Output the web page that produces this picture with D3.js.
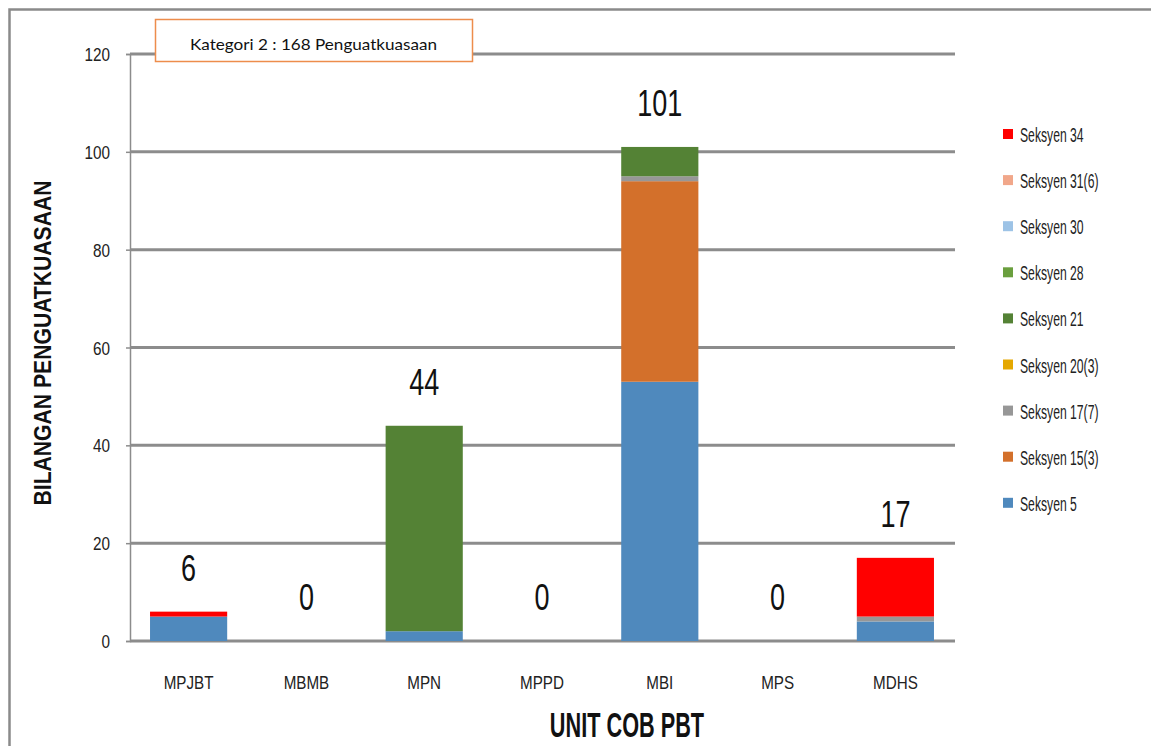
<!DOCTYPE html>
<html>
<head>
<meta charset="utf-8">
<script src="https://d3js.org/d3.v7.min.js"></script>
<style>
  body { margin: 0; background: #fff; }
  text { font-family: "Liberation Sans", Arial, sans-serif; }
</style>
</head>
<body>
<div id="chart"></div>
<script>
var categories = ["MPJBT", "MBMB", "MPN", "MPPD", "MBI", "MPS", "MDHS"];

// series, bottom of the stack first
var seriesNames = ["Seksyen 5", "Seksyen 15(3)", "Seksyen 17(7)", "Seksyen 20(3)", "Seksyen 21",
                   "Seksyen 28", "Seksyen 30", "Seksyen 31(6)", "Seksyen 34"];
var seksyen5   = [5, 0, 2, 0, 53, 0, 4];
var seksyen15  = [0, 0, 0, 0, 41, 0, 0];
var seksyen17  = [0, 0, 0, 0, 1, 0, 1];
var seksyen20  = [0, 0, 0, 0, 0, 0, 0];
var seksyen21  = [0, 0, 42, 0, 6, 0, 0];
var seksyen28  = [0, 0, 0, 0, 0, 0, 0];
var seksyen30  = [0, 0, 0, 0, 0, 0, 0];
var seksyen31  = [0, 0, 0, 0, 0, 0, 0];
var seksyen34  = [1, 0, 0, 0, 0, 0, 12];
var seriesColors = ["#4f89bd", "#d3702b", "#979797", "#e5a800", "#548235",
                    "#6a9f3e", "#9dc3e6", "#f1a78a", "#ff0000"];
var yTicks = [0, 20, 40, 60, 80, 100, 120];
var titleText = "Kategori 2 : 168 Penguatkuasaan";

var width = 1151, height = 746;
var seriesValues = [seksyen5, seksyen15, seksyen17, seksyen20, seksyen21,
                    seksyen28, seksyen30, seksyen31, seksyen34];

var rows = categories.map(function(c, i) {
  var r = {cat: c};
  seriesNames.forEach(function(s, j) { r[s] = seriesValues[j][i]; });
  return r;
});
var totals = categories.map(function(c, i) {
  return d3.sum(seriesValues, function(v) { return v[i]; });
});

// the original uses a narrow font, so squeeze text horizontally
function squeeze(sel, fx, fy, sx) {
  sel.attr("transform", function(d, i) {
    return "translate(" + fx(d, i) + "," + fy(d, i) + ") scale(" + sx + ",1)";
  });
}

var svg = d3.select("#chart").append("svg")
  .attr("width", width)
  .attr("height", height);

// outer frame
svg.append("rect")
  .attr("x", 9.5).attr("y", 9.5)
  .attr("width", width + 20).attr("height", height + 20)
  .attr("fill", "none")
  .attr("stroke", "#8a8a8a")
  .attr("stroke-width", 2.5);

var x = d3.scaleBand().domain(categories).range([130, 954]).paddingInner(0.345).paddingOuter(0.17);
var y = d3.scaleLinear().domain([0, 120]).range([641, 54]);

// gridlines
svg.append("g").selectAll("line")
  .data(yTicks)
  .enter().append("line")
  .attr("x1", 130).attr("x2", 955)
  .attr("y1", function(d) { return y(d); })
  .attr("y2", function(d) { return y(d); })
  .attr("stroke", "#8c8c8c")
  .attr("stroke-width", 3);

// y axis (line + ticks), labels drawn separately
var yAxis = svg.append("g")
  .attr("transform", "translate(130,0)")
  .call(d3.axisLeft(y).tickValues(yTicks).tickSize(4).tickFormat(""));
yAxis.select(".domain").attr("stroke", "#8c8c8c").attr("stroke-width", 1.5);
yAxis.selectAll(".tick line").attr("stroke", "#8c8c8c").attr("stroke-width", 1.5);

svg.append("g").selectAll("text")
  .data(yTicks)
  .enter().append("text")
  .attr("text-anchor", "end")
  .style("font-size", "18px")
  .attr("fill", "#222")
  .text(function(d) { return d; })
  .call(squeeze, function() { return 110; }, function(d) { return y(d) + 7; }, 0.85);

// stacked bars
var stack = d3.stack().keys(seriesNames)(rows);
svg.append("g").selectAll("g")
  .data(stack)
  .enter().append("g")
  .attr("fill", function(d, i) { return seriesColors[i]; })
  .selectAll("rect")
  .data(function(d) { return d; })
  .enter().filter(function(d) { return d[1] - d[0] > 0; })
  .append("rect")
  .attr("x", function(d) { return x(d.data.cat); })
  .attr("width", x.bandwidth())
  .attr("y", function(d) { return y(d[1]); })
  .attr("height", function(d) { return y(d[0]) - y(d[1]); });

// totals above bars
svg.append("g").selectAll("text")
  .data(categories)
  .enter().append("text")
  .attr("text-anchor", "middle")
  .style("font-size", "36px")
  .attr("fill", "#111")
  .text(function(d, i) { return totals[i]; })
  .call(squeeze,
        function(d) { return x(d) + x.bandwidth() / 2; },
        function(d, i) { return y(totals[i]) - 31; }, 0.75);

// x tick labels
svg.append("g").selectAll("text")
  .data(categories)
  .enter().append("text")
  .attr("text-anchor", "middle")
  .style("font-size", "19px")
  .attr("fill", "#222")
  .text(function(d) { return d; })
  .call(squeeze, function(d) { return x(d) + x.bandwidth() / 2; }, function() { return 689; }, 0.8);

// axis titles
svg.append("text")
  .attr("text-anchor", "middle")
  .style("font-size", "35px")
  .style("font-weight", "bold")
  .attr("fill", "#111")
  .text("UNIT COB PBT")
  .call(squeeze, function() { return 627; }, function() { return 737; }, 0.62);

svg.append("text")
  .attr("transform", "translate(51,343) rotate(-90)")
  .attr("text-anchor", "middle")
  .style("font-size", "24px")
  .style("font-weight", "bold")
  .attr("fill", "#111")
  .attr("textLength", 325)
  .attr("lengthAdjust", "spacingAndGlyphs")
  .text("BILANGAN PENGUATKUASAAN");

// title box
svg.append("rect")
  .attr("x", 155.5).attr("y", 19.5)
  .attr("width", 317).attr("height", 42)
  .attr("fill", "#fff")
  .attr("stroke", "#ed8d4c")
  .attr("stroke-width", 1.5);
svg.append("text")
  .attr("x", 190).attr("y", 50)
  .style("font-family", "Lato, 'Open Sans', sans-serif")
  .style("font-size", "16px")
  .attr("fill", "#111")
  .attr("textLength", 247)
  .attr("lengthAdjust", "spacingAndGlyphs")
  .text(titleText);

// legend, top of stack first
var legendItems = seriesNames.slice().reverse();
var legend = svg.append("g").selectAll("g")
  .data(legendItems)
  .enter().append("g")
  .attr("transform", function(d, i) { return "translate(1003," + (134 + i * 46.1) + ")"; });
legend.append("rect")
  .attr("x", 0).attr("y", -5)
  .attr("width", 10).attr("height", 10)
  .attr("fill", function(d) { return seriesColors[seriesNames.indexOf(d)]; });
legend.append("text")
  .style("font-size", "21px")
  .attr("fill", "#222")
  .text(function(d) { return d; })
  .call(squeeze, function() { return 17; }, function() { return 8; }, 0.58);
</script>
</body>
</html>
